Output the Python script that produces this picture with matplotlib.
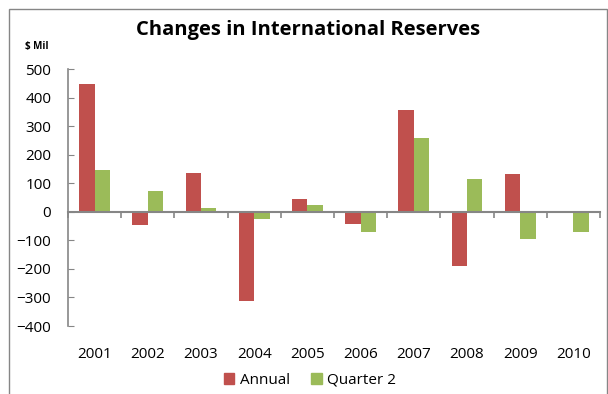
import matplotlib.pyplot as plt
import matplotlib.patches as mpatches
import numpy as np

plt.rcParams['font.family'] = ['Open Sans', 'DejaVu Sans']

years = ["2001", "2002", "2003", "2004", "2005", "2006", "2007", "2008", "2009", "2010"]
annual = [447, -46, 136, -313, 45, -43, 356, -191, 134, 0]
quarter2 = [147, 73, 12, -25, 24, -72, 260, 114, -94, -70]

red = "#C0504D"
green = "#9BBB59"
axis_grey = "#868686"

fig = plt.figure(figsize=(6.08, 3.94), dpi=100)
ax = fig.add_axes([68 / 608, 68 / 394, 532 / 608, 256.7 / 394])

x = np.arange(len(years))
w = 0.29
ax.bar(x - w / 2, annual, w, color=red, label="Annual", zorder=2)
ax.bar(x + w / 2, quarter2, w, color=green, label="Quarter 2", zorder=2)

ax.set_xlim(-0.5, len(years) - 0.5)
ax.set_ylim(-400, 500)
ax.set_yticks(np.arange(-400, 501, 100))
ax.tick_params(axis="y", direction="in", length=4, color=axis_grey,
               labelsize=11, pad=12)

for side in ["top", "right"]:
    ax.spines[side].set_visible(False)
ax.spines["left"].set_color(axis_grey)
ax.spines["left"].set_linewidth(1.2)

# category axis sits on the zero line, with ticks between the years
ax.spines["bottom"].set_position(("data", 0))
ax.spines["bottom"].set_color(axis_grey)
ax.spines["bottom"].set_linewidth(1.5)
ax.set_xticks(np.arange(-0.5, len(years), 1))
ax.set_xticklabels([])
ax.tick_params(axis="x", direction="out", length=4, color=axis_grey, width=1.2)

# year labels along the bottom of the plot area
sec = ax.secondary_xaxis(0.0)
sec.set_xticks(x)
sec.set_xticklabels(years)
sec.tick_params(length=0, labelsize=11, pad=15)
sec.spines["bottom"].set_visible(False)

fig.text(308 / 608, 1 - 29.5 / 394, "Changes in International Reserves",
         ha="center", va="center", fontsize=14.5, fontweight="bold")
fig.text(25 / 608, 1 - 46 / 394, "$ Mil", ha="left", va="center",
         fontsize=7, fontweight="bold")

handles = [mpatches.Patch(color=red, label="Annual"),
           mpatches.Patch(color=green, label="Quarter 2")]
fig.legend(handles=handles, loc="center", bbox_to_anchor=(310 / 608, 1 - 380 / 394),
           ncol=2, frameon=False, fontsize=11, handlelength=0.7, handleheight=0.7,
           handletextpad=0.35, columnspacing=1.4)

# chart border
border = mpatches.Rectangle((8.5 / 608, -0.05), (606.5 - 8.5) / 608, 1.05 - 8.5 / 394,
                            transform=fig.transFigure, fill=False,
                            edgecolor=axis_grey, linewidth=1.0, clip_on=False)
fig.patches.append(border)

fig.savefig("out.png", dpi=100)
